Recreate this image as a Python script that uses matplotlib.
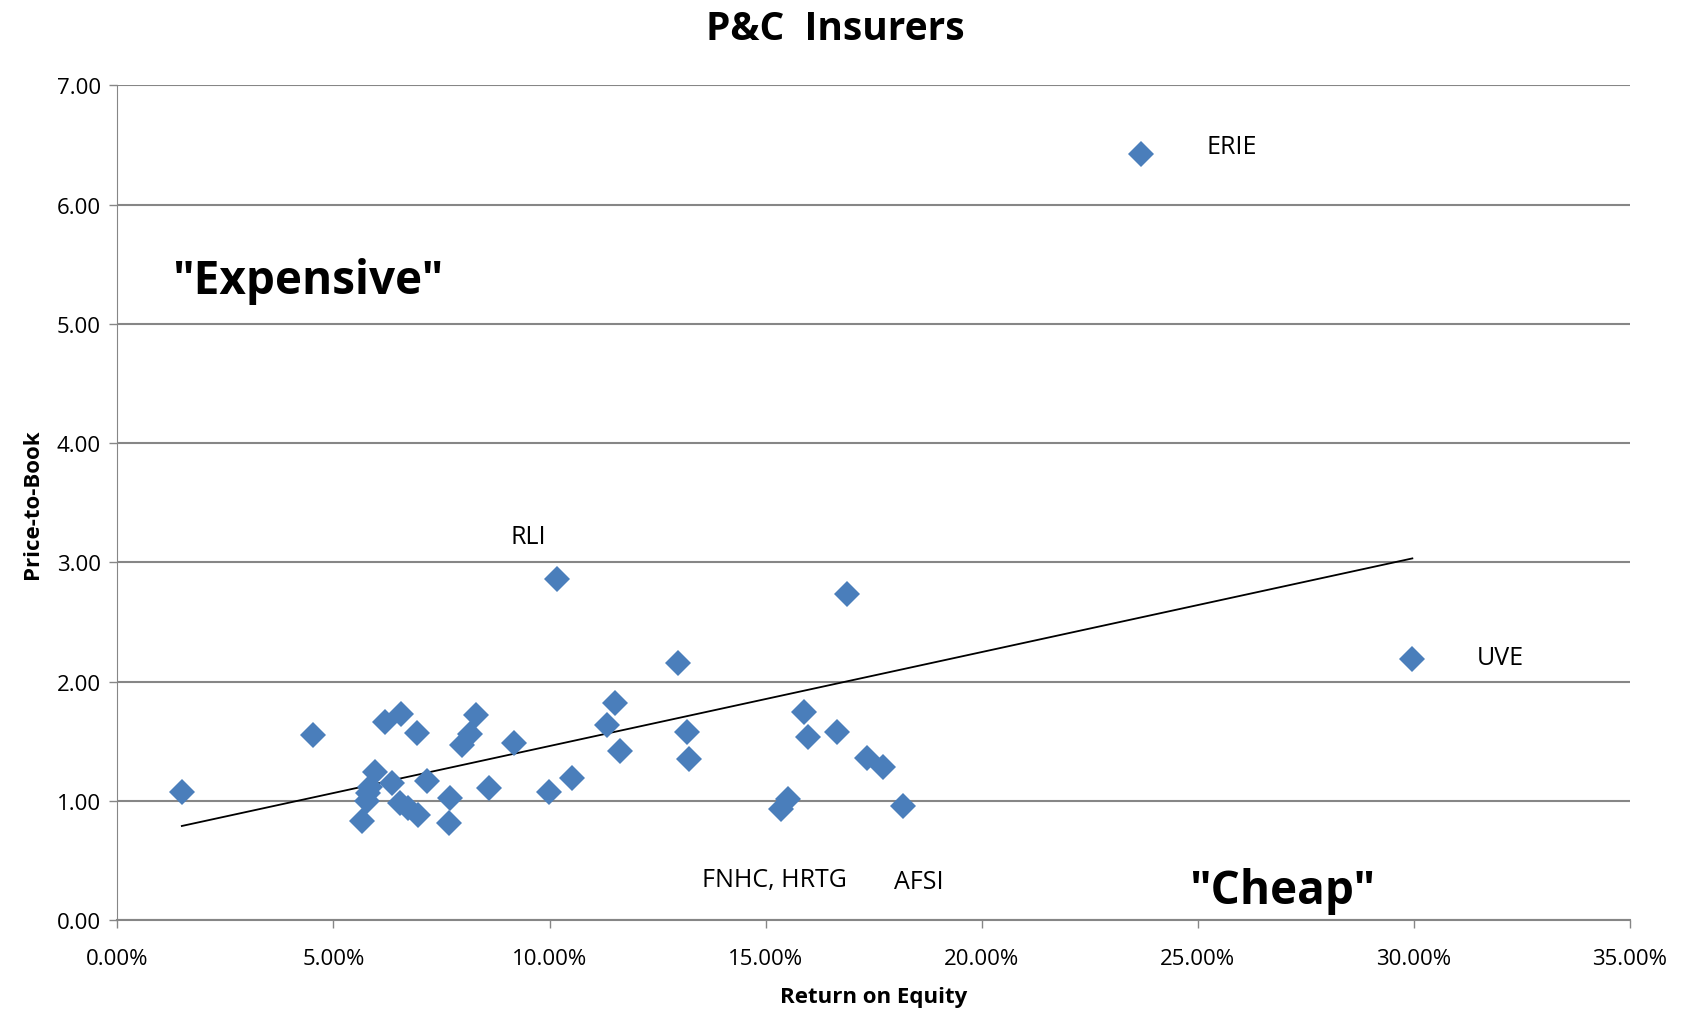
import numpy as np
import matplotlib
matplotlib.use("Agg")
import matplotlib.pyplot as plt
from matplotlib.ticker import FuncFormatter, MultipleLocator

plt.rcParams["font.family"] = ["Open Sans", "DejaVu Sans"]

# return on equity (%) and price-to-book
roe = [1.49, 4.53, 6.19, 6.56, 6.94, 8.29, 8.16, 7.98, 9.18, 10.51, 9.98,
       8.61, 7.70, 7.68, 7.16, 6.35, 5.97, 5.85, 5.81, 5.77, 5.65, 6.54,
       6.73, 6.95, 10.17, 16.88, 12.98, 11.52, 11.33, 11.62, 13.18, 13.23,
       15.90, 15.99, 16.65, 17.34, 17.73, 18.17, 15.51, 15.35, 23.70, 29.97]
ptb = [1.08, 1.55, 1.66, 1.73, 1.57, 1.72, 1.56, 1.47, 1.49, 1.19, 1.08,
       1.11, 1.03, 0.82, 1.17, 1.15, 1.24, 1.12, 1.07, 1.00, 0.83, 0.98,
       0.94, 0.88, 2.86, 2.74, 2.16, 1.82, 1.64, 1.42, 1.58, 1.35,
       1.75, 1.54, 1.58, 1.36, 1.29, 0.96, 1.02, 0.93, 6.42, 2.19]

tickers = ["ERIE", "RLI", "UVE", "FNHC, HRTG", "AFSI"]
ticker_x = [25.8, 9.5, 32.0, 15.2, 18.55]
ticker_y = [6.49, 3.22, 2.20, 0.34, 0.33]

fig = plt.figure(figsize=(16.9, 10.12), dpi=100)
ax = fig.add_axes([0.0695, 0.0895, 0.8948, 0.8253])

x = np.array(roe)
y = np.array(ptb)
ax.plot(x, y, "D", color="#4a7ebb", markersize=13, markeredgewidth=0, zorder=3)

# linear trendline
k, b = np.polyfit(x, y, 1)
xs = np.array([x.min(), x.max()])
ax.plot(xs, k * xs + b, color="black", lw=1.3, zorder=2)

for name, tx, ty in zip(tickers, ticker_x, ticker_y):
    ax.text(tx, ty, name, ha="center", va="center", fontsize=18)

ax.text(4.4, 5.36, '"Expensive"', ha="center", va="center", fontsize=33, fontweight="bold")
ax.text(26.95, 0.25, '"Cheap"', ha="center", va="center", fontsize=33, fontweight="bold")

ax.set_xlim(0, 35)
ax.set_ylim(0, 7)
ax.xaxis.set_major_locator(MultipleLocator(5))
ax.yaxis.set_major_locator(MultipleLocator(1))
ax.xaxis.set_major_formatter(FuncFormatter(lambda v, p: f"{v:.2f}%"))
ax.yaxis.set_major_formatter(FuncFormatter(lambda v, p: f"{v:.2f}"))

ax.grid(axis="y", color="#868686", lw=1.5)
ax.set_axisbelow(True)
for s in ["top", "right"]:
    ax.spines[s].set_visible(False)
ax.spines["left"].set_color("#868686")
ax.spines["bottom"].set_color("#868686")
ax.spines["bottom"].set_linewidth(1.5)
ax.tick_params(axis="both", colors="#868686", labelcolor="black", labelsize=16,
               length=6, width=1)
ax.tick_params(axis="x", pad=14)
ax.tick_params(axis="y", pad=6)

ax.set_xlabel("Return on Equity", fontsize=16, fontweight="bold", labelpad=12)
ax.set_ylabel("Price-to-Book", fontsize=16, fontweight="bold", labelpad=10)
fig.suptitle("P&C  Insurers", fontsize=28, fontweight="bold", x=0.494, y=0.99)

fig.savefig("out.png", dpi=100)
